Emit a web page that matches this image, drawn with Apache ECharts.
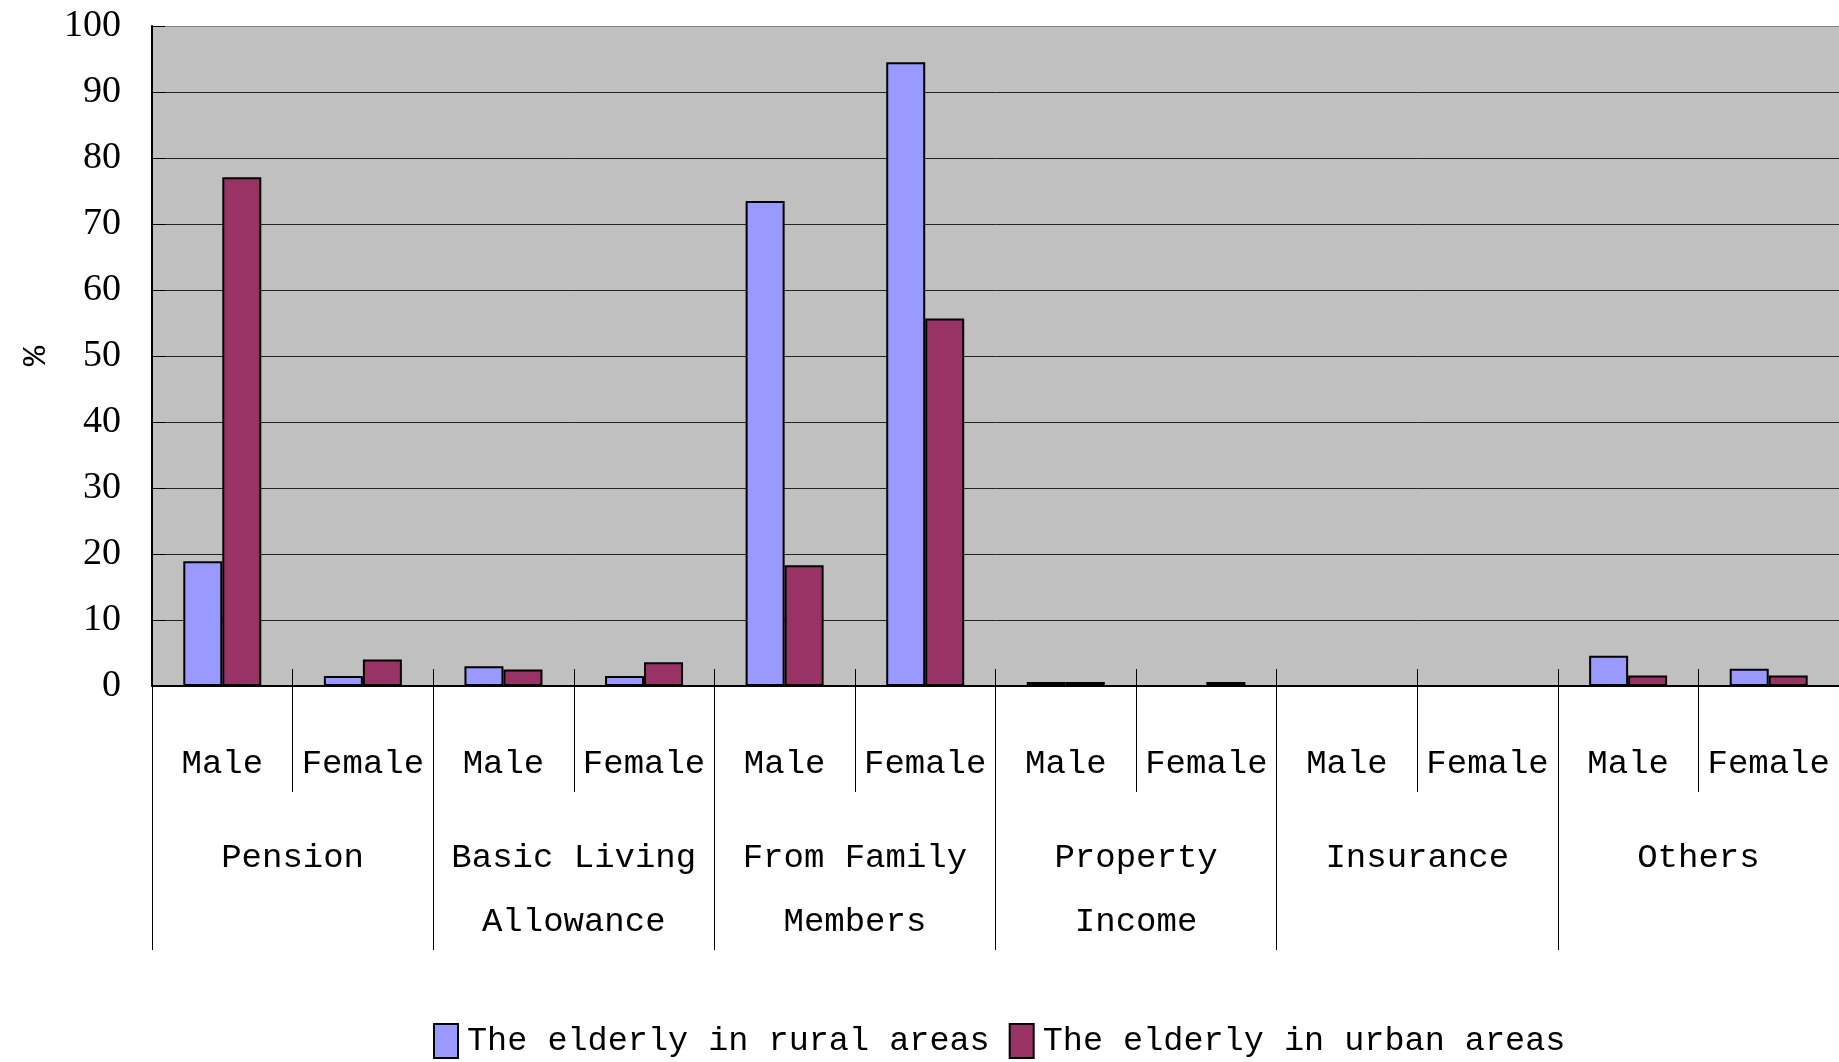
<!DOCTYPE html>
<html>
<head>
    <meta charset="utf-8">
    <script src="https://cdn.jsdelivr.net/npm/echarts@6/dist/echarts.min.js"></script>
</head>
<body style="margin: 0; background: #fff">
<div id="main" style="width: 1839px; height: 1062px"></div>
<script type="text/javascript">
    // chart data
    var groups = ['Pension', 'Basic Living\nAllowance', 'From Family\nMembers', 'Property\nIncome', 'Insurance', 'Others'];
    var subLabels = ['Male', 'Female', 'Male', 'Female', 'Male', 'Female',
                     'Male', 'Female', 'Male', 'Female', 'Male', 'Female'];
    var rural = [18.9, 1.5, 3.0, 1.5, 73.5, 94.5, 0.6, 0, 0, 0, 4.6, 2.6];
    var urban = [77.1, 4.0, 2.5, 3.6, 18.3, 55.7, 0.6, 0.6, 0, 0, 1.6, 1.6];

    var monoFont = 'Liberation Mono';
    var splitColors = ['#000', '#222', '#222', '#222', '#222', '#222',
                       '#222', '#222', '#222', '#222', '#808080'];

    var myChart = echarts.init(document.getElementById('main'));

    var option = {
        animation: false,
        grid: {
            left: 152, top: 26, right: 0, bottom: 376,
            show: true, backgroundColor: '#C0C0C0', borderWidth: 0
        },
        legend: {
            left: 428, top: 1018,
            itemWidth: 24, itemHeight: 34, itemGap: 19,
            icon: 'rect',
            textStyle: { fontFamily: monoFont, fontSize: 33.5, color: '#000', padding: [0, 0, 0, 4] },
            data: ['The elderly in rural areas', 'The elderly in urban areas']
        },
        xAxis: [{
            type: 'category',
            data: subLabels,
            position: 'bottom',
            axisLine: { show: true, lineStyle: { color: '#000', width: 2 } },
            axisTick: { show: true, interval: 0, length: 106, lineStyle: { color: '#000', width: 1 } },
            axisLabel: { interval: 0, margin: 58, fontFamily: monoFont, fontSize: 34, color: '#000', lineHeight: 40 },
            splitLine: { show: false }
        }, {
            type: 'category',
            data: groups,
            position: 'bottom',
            axisLine: { show: false },
            axisTick: { show: true, interval: 0, length: 264, lineStyle: { color: '#000', width: 1 } },
            axisLabel: { interval: 0, margin: 140, fontFamily: monoFont, fontSize: 34, color: '#000', lineHeight: 64 },
            splitLine: { show: false }
        }, {
            type: 'category',
            data: subLabels,
            position: 'bottom',
            axisLine: { show: false },
            axisTick: { show: true, interval: 0, inside: true, length: 17, lineStyle: { color: '#000', width: 1 } },
            axisLabel: { show: false },
            splitLine: { show: false }
        }],
        yAxis: {
            type: 'value',
            min: 0, max: 100, interval: 10,
            name: '%',
            nameLocation: 'middle',
            nameRotate: 90,
            nameGap: 90,
            nameTextStyle: { fontFamily: monoFont, fontSize: 34, color: '#000' },
            axisLine: { show: true, lineStyle: { color: '#000', width: 2 } },
            axisTick: { show: true, inside: true, length: 13, lineStyle: { color: '#000' } },
            axisLabel: { margin: 31, fontFamily: 'Liberation Serif', fontSize: 38, color: '#000' },
            splitLine: { lineStyle: { color: splitColors, width: 1 } }
        },
        series: [{
            name: 'The elderly in rural areas',
            type: 'bar',
            data: rural,
            barWidth: 39,
            barGap: '0%',
            itemStyle: { color: '#9999FF', borderColor: '#000', borderWidth: 2 }
        }, {
            name: 'The elderly in urban areas',
            type: 'bar',
            data: urban,
            barWidth: 39,
            barGap: '0%',
            itemStyle: { color: '#993366', borderColor: '#000', borderWidth: 2 }
        }]
    };

    myChart.setOption(option);
</script>
</body>
</html>
